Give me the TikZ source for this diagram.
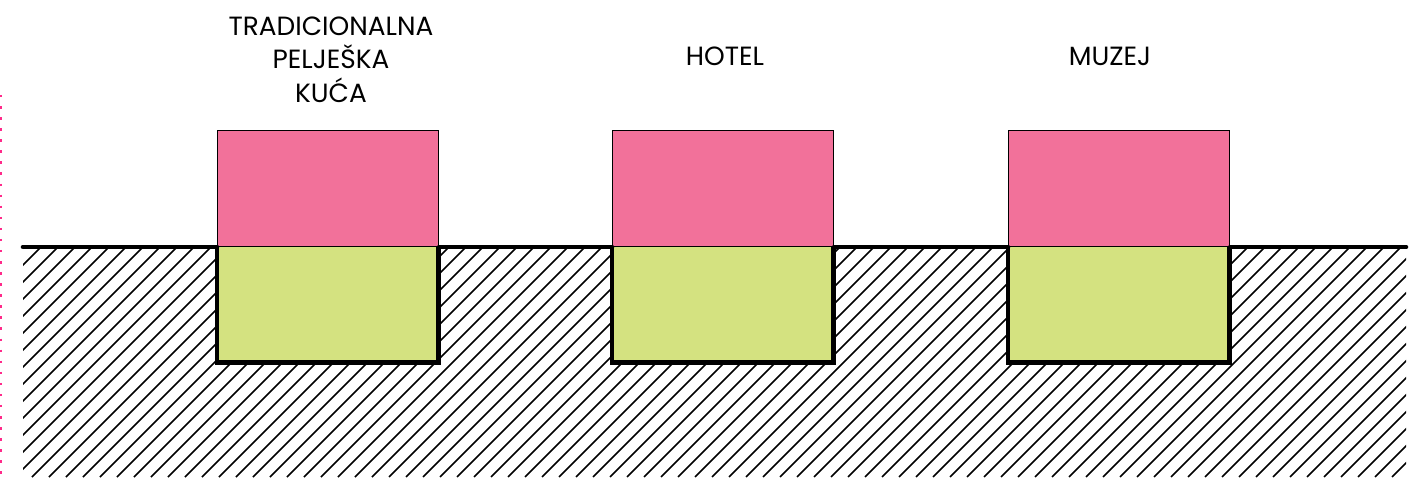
\documentclass[tikz,border=0pt]{standalone}
\usepackage{fontspec}
\setmainfont{Poppins}
\usepackage{tikz}
\definecolor{roofpink}{HTML}{F2719A}
\definecolor{cellargreen}{HTML}{D4E280}
\definecolor{edgepink}{HTML}{FF2A8A}

\begin{document}
\begin{tikzpicture}[
  x=0.2mm, y=-0.2mm,
  upper/.style={draw=black, line width=0.6pt, fill=roofpink, minimum width=44.2mm,
    minimum height=23.2mm, inner sep=0pt, anchor=south west},
  lower/.style={fill=cellargreen, minimum width=44.2mm, minimum height=23mm,
    inner sep=0pt, anchor=north west},
  walls/.style={line width=2.8pt, line join=miter},
  ground/.style={line width=2.6pt, line cap=round},
  hatch/.style={line width=0.85pt},
  lbl/.style={font=\fontsize{15}{18.8}\selectfont, align=center, anchor=base}
]
\useasboundingbox (0,0) rectangle (1414,477);

% ---- Soil hatching ----
\begin{scope}
  \clip (23,247) rectangle (1406,477);
  \foreach \x in {-240,-223,...,1414} {
    \draw[hatch] (\x,477) -- ++(240,-240);
  }
\end{scope}

% ---- Left edge ----
\draw[edgepink, line width=1.3pt, dash pattern=on 1.4pt off 4.9pt] (0.8,95) -- (0.8,477);

% ---- Buildings ----
\foreach \n/\x in {a/217, b/612, c/1008} {
  \node[upper] (up\n) at (\x,247) {};
  \node[lower] (lo\n) at (\x,247) {};
  \draw[walls] (lo\n.north west) -- (lo\n.south west) -- (lo\n.south east) -- (lo\n.north east);
}

% ---- Ground line ----
\draw[ground] (23,247) -- (upa.south west);
\draw[ground] (upa.south east) -- (upb.south west);
\draw[ground] (upb.south east) -- (upc.south west);
\draw[ground] (upc.south east) -- (1406,247);

% ---- Labels ----
\node[lbl] (house) at (331,102) {TRADICIONALNA\\PELJEŠKA\\KUĆA};
\node[lbl] (hotel) at (725,66) {HOTEL};
\node[lbl] (museum) at (1110,66) {MUZEJ};

\end{tikzpicture}
\end{document}
